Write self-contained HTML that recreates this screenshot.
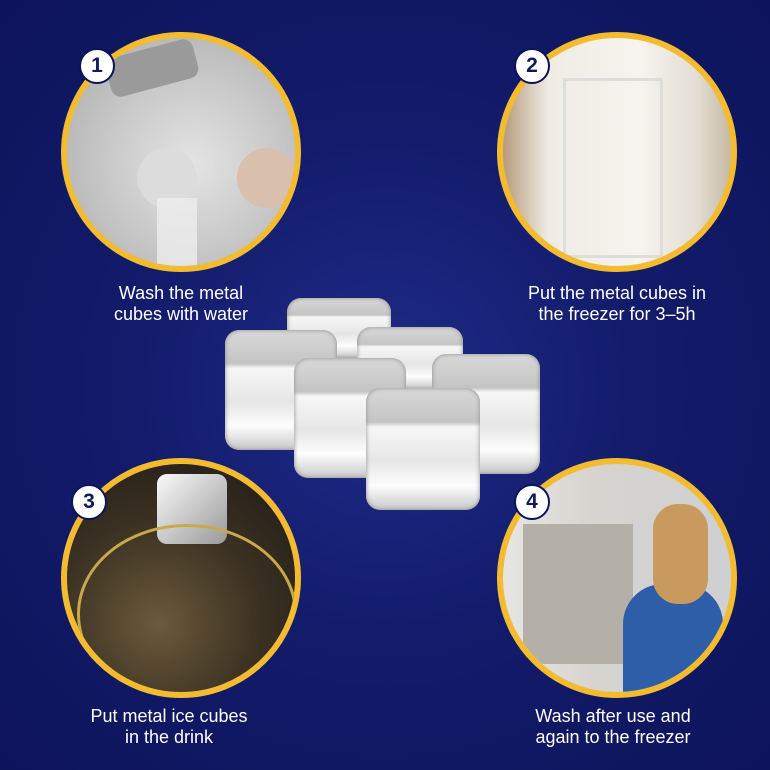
<!DOCTYPE html>
<html><head><meta charset="utf-8"><style>
*{margin:0;padding:0;box-sizing:border-box}
body{width:770px;height:770px;overflow:hidden;background:radial-gradient(ellipse at 50% 50%,#1f2b88 0%,#131c6c 45%,#0d145a 100%);font-family:"Liberation Sans",sans-serif;position:relative}
.c{position:absolute;width:240px;height:240px;border-radius:50%;border:6px solid #f3bb2f;overflow:hidden}
.b{position:absolute;width:36px;height:36px;border-radius:50%;background:#fff;border:2px solid #0c1459;color:#111a5a;font-weight:bold;font-size:21px;text-align:center;line-height:32px}
.t{position:absolute;width:300px;text-align:center;color:#fff;font-size:18px;line-height:21px}
.cube{position:absolute;border-radius:14px;background:linear-gradient(180deg,#d9d9d9 0%,#c4c4c4 28%,#f7f7f7 32%,#e6e6e6 60%,#fdfdfd 80%,#c8c8c8 100%);box-shadow:inset 0 0 5px #8a8a8a}
</style></head><body>
<div class="c" style="left:61px;top:32px;background:radial-gradient(circle at 55% 55%,#e4e4e4 0%,#c7c7c7 50%,#a8a8a8 100%)">
 <div style="position:absolute;left:40px;top:10px;width:90px;height:40px;background:#9a9a9a;border-radius:10px;transform:rotate(-15deg)"></div>
 <div style="position:absolute;left:70px;top:110px;width:60px;height:60px;border-radius:50%;background:#dcdcdc"></div>
 <div style="position:absolute;left:90px;top:160px;width:40px;height:80px;background:#eee;opacity:.8"></div>
 <div style="position:absolute;left:170px;top:110px;width:60px;height:60px;border-radius:30px;background:#d9bfae"></div>
</div>
<div class="c" style="left:497px;top:32px;background:linear-gradient(90deg,#b69b7d 0%,#efece4 20%,#f6f4ee 60%,#e3ded4 85%,#c6b9a2 100%)">
 <div style="position:absolute;left:60px;top:40px;width:100px;height:180px;border:3px solid #ddd"></div>
</div>
<div class="c" style="left:61px;top:458px;background:radial-gradient(circle at 40% 70%,#6b5a3a 0%,#3a3022 50%,#1e1a16 100%)">
 <div style="position:absolute;left:90px;top:10px;width:70px;height:70px;border-radius:10px;background:linear-gradient(135deg,#fafafa,#999)"></div>
 <div style="position:absolute;left:10px;top:60px;width:220px;height:180px;border-radius:50%;border:3px solid #c8a94a;border-bottom:none"></div>
</div>
<div class="c" style="left:497px;top:458px;background:linear-gradient(90deg,#e7e5e2 0%,#d7d4d0 40%,#cfd0d2 100%)">
 <div style="position:absolute;left:20px;top:60px;width:110px;height:140px;background:#b4b0a8"></div>
 <div style="position:absolute;left:120px;top:120px;width:100px;height:120px;border-radius:40px 40px 0 0;background:#2f5ea8"></div>
 <div style="position:absolute;left:150px;top:40px;width:55px;height:100px;border-radius:25px;background:#c89a5e"></div>
</div>
<div class="b" style="left:79px;top:48px">1</div>
<div class="b" style="left:514px;top:48px">2</div>
<div class="b" style="left:71px;top:484px">3</div>
<div class="b" style="left:514px;top:484px">4</div>
<div class="t" style="left:31px;top:283px">Wash the metal<br>cubes with water</div>
<div class="t" style="left:467px;top:283px">Put the metal cubes in<br>the freezer for 3–5h</div>
<div class="t" style="left:19px;top:706px">Put metal ice cubes<br>in the drink</div>
<div class="t" style="left:463px;top:706px">Wash after use and<br>again to the freezer</div>
<div class="cube" style="left:287px;top:298px;width:104px;height:60px"></div>
<div class="cube" style="left:357px;top:327px;width:106px;height:62px"></div>
<div class="cube" style="left:225px;top:330px;width:112px;height:120px"></div>
<div class="cube" style="left:432px;top:354px;width:108px;height:120px"></div>
<div class="cube" style="left:294px;top:358px;width:112px;height:120px"></div>
<div class="cube" style="left:366px;top:388px;width:114px;height:122px"></div>
</body></html>
